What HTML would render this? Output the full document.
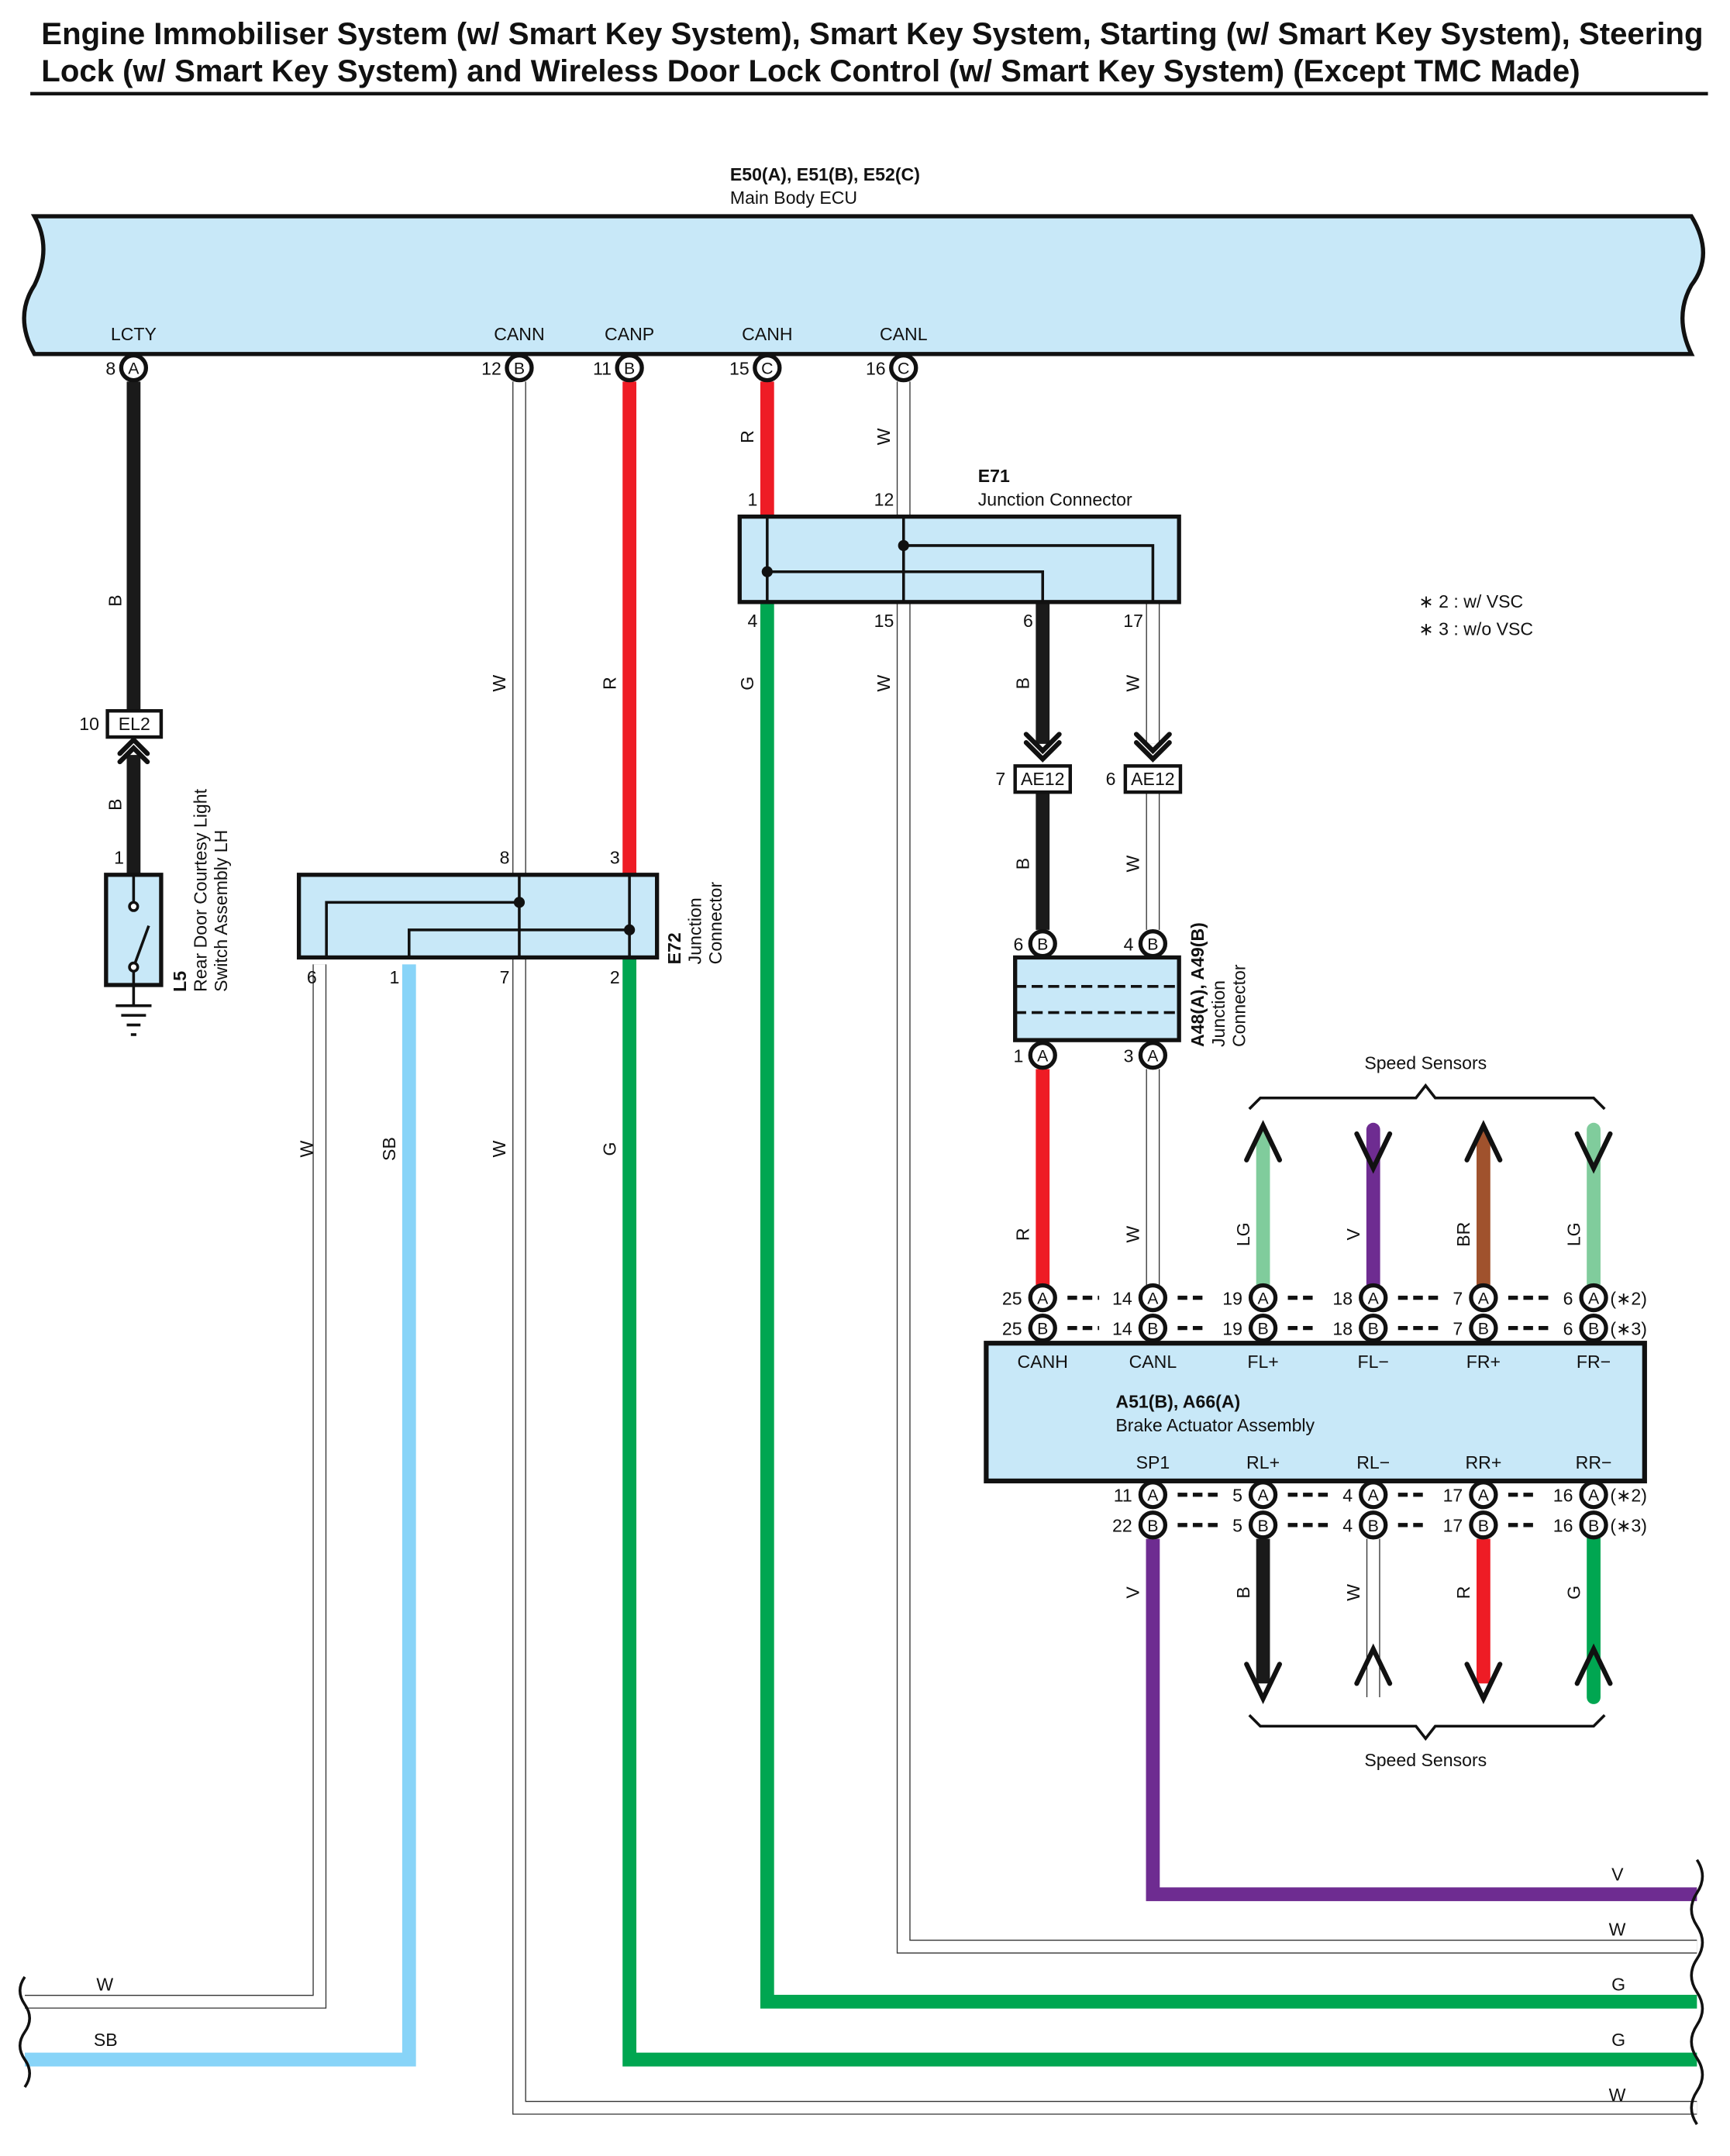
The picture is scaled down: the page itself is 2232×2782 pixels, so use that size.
<!DOCTYPE html>
<html><head><meta charset="utf-8"><style>
html,body{margin:0;padding:0;background:#fff}
svg{display:block}
text{font-family:"Liberation Sans",sans-serif;fill:#111}
.s{font-size:13px}
.b{font-weight:bold}
.c{font-size:12px;text-anchor:middle}
.m{text-anchor:middle}
.e{text-anchor:end}
</style></head><body>
<svg width="2232" height="2782" viewBox="0 0 1256 1565" preserveAspectRatio="none" xmlns="http://www.w3.org/2000/svg">
<defs>
<g id="pA"><circle r="9" fill="#fff" stroke="#111" stroke-width="3"/><text class="c" y="4.5">A</text></g>
<g id="pB"><circle r="9" fill="#fff" stroke="#111" stroke-width="3"/><text class="c" y="4.5">B</text></g>
<g id="pC"><circle r="9" fill="#fff" stroke="#111" stroke-width="3"/><text class="c" y="4.5">C</text></g>
</defs>
<text x="30" y="32" class="b" font-size="22.6">Engine Immobiliser System (w/ Smart Key System), Smart Key System, Starting (w/ Smart Key System), Steering</text>
<text x="30" y="59" class="b" font-size="22.6">Lock (w/ Smart Key System) and Wireless Door Lock Control (w/ Smart Key System) (Except TMC Made)</text>
<line x1="22" y1="68" x2="1240" y2="68" stroke="#111" stroke-width="2.5"/>

<text x="530" y="131" class="s b">E50(A), E51(B), E52(C)</text>
<text x="530" y="148" class="s">Main Body ECU</text>
<path d="M25,157 L1228,157 Q1245,185 1228,207 Q1215,230 1228,257 L25,257 Q10,230 25,207 Q38,180 25,157 Z" fill="#c8e8f8" stroke="#111" stroke-width="3"/>
<g class="s m">
<text x="97" y="247">LCTY</text><text x="377" y="247">CANN</text><text x="457" y="247">CANP</text><text x="557" y="247">CANH</text><text x="656" y="247">CANL</text>
</g>

<g fill="none" stroke-linejoin="miter">
<g stroke="#333" stroke-width="10">
<path d="M377,277 V1530 H1232"/>
<path d="M232,700 V1453 H18"/>
<path d="M656,277 V375 M656,437 V1413 H1232"/>
<path d="M837,437 V540 M837,575 V675 M837,776 V933"/>
<path d="M997,1117 V1232"/>
</g>
<g stroke="#fff" stroke-width="8.5">
<path d="M377,277 V1530 H1232"/>
<path d="M232,700 V1453 H18"/>
<path d="M656,277 V375 M656,437 V1413 H1232"/>
<path d="M837,437 V540 M837,575 V675 M837,776 V933"/>
<path d="M997,1117 V1232"/>
</g>
<path d="M97,277 V515 M97,548 V635" stroke="#1a1a1a" stroke-width="10"/>
<path d="M457,277 V635" stroke="#ee1c25" stroke-width="10"/>
<path d="M557,277 V375" stroke="#ee1c25" stroke-width="10"/>
<path d="M297,700 V1495 H18" stroke="#88d4f8" stroke-width="10"/>
<path d="M457,695 V1495 H1232" stroke="#00a651" stroke-width="10"/>
<path d="M557,437 V1453 H1232" stroke="#00a651" stroke-width="10"/>
<path d="M757,437 V540 M757,575 V675" stroke="#1a1a1a" stroke-width="10"/>
<path d="M757,776 V933" stroke="#ee1c25" stroke-width="10"/>
<path d="M917,825 V933" stroke="#80cc9c" stroke-width="10" stroke-linecap="round"/>
<path d="M997,820 V933" stroke="#6e2c91" stroke-width="10" stroke-linecap="round"/>
<path d="M1077,825 V933" stroke="#a0522d" stroke-width="10" stroke-linecap="round"/>
<path d="M1157,820 V933" stroke="#80cc9c" stroke-width="10" stroke-linecap="round"/>
<path d="M837,1117 V1375 H1232" stroke="#6e2c91" stroke-width="10"/>
<path d="M917,1117 V1222" stroke="#1a1a1a" stroke-width="10"/>
<path d="M1077,1117 V1222" stroke="#ee1c25" stroke-width="10"/>
<path d="M1157,1117 V1232" stroke="#00a651" stroke-width="10" stroke-linecap="round"/>
<g stroke="#111" stroke-width="3.5" stroke-linecap="round">
<path d="M905,842 L917,817 L929,842"/>
<path d="M985,823 L997,848 L1009,823"/>
<path d="M1065,842 L1077,817 L1089,842"/>
<path d="M1145,823 L1157,848 L1169,823"/>
<path d="M905,1208 L917,1233 L929,1208"/>
<path d="M985,1222 L997,1197 L1009,1222"/>
<path d="M1065,1208 L1077,1233 L1089,1208"/>
<path d="M1145,1222 L1157,1197 L1169,1222"/>
<path d="M87,553 L97,543 L107,553 M87,547 L97,537 L107,547"/>
<path d="M745,533 L757,545 L769,533 M745,539 L757,551 L769,539"/>
<path d="M825,533 L837,545 L849,533 M825,539 L837,551 L849,539"/>
</g>
<path d="M907,805 L915,797 L1028,797 L1035,788 L1042,797 L1157,797 L1165,805" stroke="#111" stroke-width="2"/>
<path d="M907,1245 L915,1253 L1028,1253 L1035,1262 L1042,1253 L1157,1253 L1165,1245" stroke="#111" stroke-width="2"/>
<path d="M1232,1350 q8,12 0,24 q-8,12 0,24 q8,12 0,24 q-8,12 0,24 q8,12 0,24 q-8,12 0,24 q8,12 0,24 q-8,12 0,24" stroke="#111" stroke-width="2"/>
<path d="M18,1435 q-7,10 0,20 q7,10 0,20 q-7,10 0,20 q7,10 0,20" stroke="#111" stroke-width="2"/>
</g>

<use href="#pA" x="97" y="267"/><use href="#pB" x="377" y="267"/><use href="#pB" x="457" y="267"/><use href="#pC" x="557" y="267"/><use href="#pC" x="656" y="267"/>
<g class="s e"><text x="84" y="272">8</text><text x="364" y="272">12</text><text x="444" y="272">11</text><text x="544" y="272">15</text><text x="643" y="272">16</text></g>

<rect x="78" y="516" width="39" height="19" fill="#fff" stroke="#111" stroke-width="2.5"/>
<text x="97.5" y="530" class="s m">EL2</text><text x="72" y="530" class="s e">10</text>
<text x="90" y="627" class="s e">1</text>
<rect x="77" y="635" width="40" height="80" fill="#c8e8f8" stroke="#111" stroke-width="3"/>
<g stroke="#111" stroke-width="2" fill="#fff"><line x1="97" y1="635" x2="97" y2="655"/><line x1="97" y1="702" x2="97" y2="730"/><line x1="97" y1="702" x2="108" y2="672"/><circle cx="97" cy="658" r="3"/><circle cx="97" cy="702" r="3"/>
<line x1="84" y1="730" x2="110" y2="730"/><line x1="88" y1="737" x2="106" y2="737"/><line x1="92" y1="744" x2="102" y2="744"/><line x1="95" y1="751" x2="99" y2="751"/></g>
<g transform="translate(135,720) rotate(-90)"><text class="s b">L5</text><text y="15" class="s">Rear Door Courtesy Light</text><text y="30" class="s">Switch Assembly LH</text></g>

<rect x="217" y="635" width="260" height="60" fill="#c8e8f8" stroke="#111" stroke-width="3"/>
<g stroke="#111" stroke-width="2" fill="none"><path d="M377,635 V695 M377,655 H237 V695 M457,635 V695 M457,675 H297 V695"/></g>
<circle cx="377" cy="655" r="4" fill="#111"/><circle cx="457" cy="675" r="4" fill="#111"/>
<g class="s e"><text x="370" y="627">8</text><text x="450" y="627">3</text><text x="230" y="714">6</text><text x="290" y="714">1</text><text x="370" y="714">7</text><text x="450" y="714">2</text></g>
<g transform="translate(494,700) rotate(-90)"><text class="s b">E72</text><text y="15" class="s">Junction</text><text y="30" class="s">Connector</text></g>

<text x="710" y="350" class="s b">E71</text><text x="710" y="367" class="s">Junction Connector</text>
<rect x="537" y="375" width="319" height="62" fill="#c8e8f8" stroke="#111" stroke-width="3"/>
<g stroke="#111" stroke-width="2" fill="none"><path d="M557,375 V437 M557,415 H757 V437 M656,375 V437 M656,396 H837 V437"/></g>
<circle cx="557" cy="415" r="4" fill="#111"/><circle cx="656" cy="396" r="4" fill="#111"/>
<g class="s e"><text x="550" y="367">1</text><text x="649" y="367">12</text><text x="550" y="455">4</text><text x="649" y="455">15</text><text x="750" y="455">6</text><text x="830" y="455">17</text></g>

<rect x="737" y="556" width="40" height="19" fill="#fff" stroke="#111" stroke-width="2.5"/><text x="757" y="570" class="s m">AE12</text>
<rect x="817" y="556" width="40" height="19" fill="#fff" stroke="#111" stroke-width="2.5"/><text x="837" y="570" class="s m">AE12</text>
<text x="730" y="570" class="s e">7</text><text x="810" y="570" class="s e">6</text>

<use href="#pB" x="757" y="685"/><use href="#pB" x="837" y="685"/>
<text x="743" y="690" class="s e">6</text><text x="823" y="690" class="s e">4</text>
<rect x="737" y="695" width="119" height="60" fill="#c8e8f8" stroke="#111" stroke-width="3"/>
<g stroke="#111" stroke-width="2" stroke-dasharray="8,4"><line x1="737" y1="716" x2="856" y2="716"/><line x1="737" y1="735" x2="856" y2="735"/></g>
<use href="#pA" x="757" y="766"/><use href="#pA" x="837" y="766"/>
<text x="743" y="771" class="s e">1</text><text x="823" y="771" class="s e">3</text>
<g transform="translate(874,760) rotate(-90)"><text class="s b">A48(A), A49(B)</text><text y="15" class="s">Junction</text><text y="30" class="s">Connector</text></g>

<text x="1030" y="441" class="s">∗ 2 : w/ VSC</text><text x="1030" y="461" class="s">∗ 3 : w/o VSC</text>
<text x="1035" y="776" class="s m">Speed Sensors</text><text x="1035" y="1282" class="s m">Speed Sensors</text>

<g stroke="#111" stroke-width="3" stroke-dasharray="7,4">
<line x1="775" y1="942" x2="798" y2="942"/><line x1="775" y1="964" x2="798" y2="964"/>
<line x1="855" y1="942" x2="876" y2="942"/><line x1="855" y1="964" x2="876" y2="964"/>
<line x1="935" y1="942" x2="956" y2="942"/><line x1="935" y1="964" x2="956" y2="964"/>
<line x1="1015" y1="942" x2="1047" y2="942"/><line x1="1015" y1="964" x2="1047" y2="964"/>
<line x1="1095" y1="942" x2="1127" y2="942"/><line x1="1095" y1="964" x2="1127" y2="964"/>
<line x1="855" y1="1085" x2="888" y2="1085"/><line x1="855" y1="1107" x2="888" y2="1107"/>
<line x1="935" y1="1085" x2="968" y2="1085"/><line x1="935" y1="1107" x2="968" y2="1107"/>
<line x1="1015" y1="1085" x2="1037" y2="1085"/><line x1="1015" y1="1107" x2="1037" y2="1107"/>
<line x1="1095" y1="1085" x2="1117" y2="1085"/><line x1="1095" y1="1107" x2="1117" y2="1107"/>
</g>
<use href="#pA" x="757" y="942"/><use href="#pB" x="757" y="964"/>
<use href="#pA" x="837" y="942"/><use href="#pB" x="837" y="964"/>
<use href="#pA" x="917" y="942"/><use href="#pB" x="917" y="964"/>
<use href="#pA" x="997" y="942"/><use href="#pB" x="997" y="964"/>
<use href="#pA" x="1077" y="942"/><use href="#pB" x="1077" y="964"/>
<use href="#pA" x="1157" y="942"/><use href="#pB" x="1157" y="964"/>
<g class="s e">
<text x="742" y="947">25</text><text x="742" y="969">25</text>
<text x="822" y="947">14</text><text x="822" y="969">14</text>
<text x="902" y="947">19</text><text x="902" y="969">19</text>
<text x="982" y="947">18</text><text x="982" y="969">18</text>
<text x="1062" y="947">7</text><text x="1062" y="969">7</text>
<text x="1142" y="947">6</text><text x="1142" y="969">6</text>
<text x="822" y="1090">11</text><text x="822" y="1112">22</text>
<text x="902" y="1090">5</text><text x="902" y="1112">5</text>
<text x="982" y="1090">4</text><text x="982" y="1112">4</text>
<text x="1062" y="1090">17</text><text x="1062" y="1112">17</text>
<text x="1142" y="1090">16</text><text x="1142" y="1112">16</text>
</g>
<g class="s"><text x="1169" y="947">(∗2)</text><text x="1169" y="969">(∗3)</text><text x="1169" y="1090">(∗2)</text><text x="1169" y="1112">(∗3)</text></g>

<rect x="716" y="975" width="478" height="100" fill="#c8e8f8" stroke="#111" stroke-width="3.5"/>
<g class="s m"><text x="757" y="993">CANH</text><text x="837" y="993">CANL</text><text x="917" y="993">FL+</text><text x="997" y="993">FL−</text><text x="1077" y="993">FR+</text><text x="1157" y="993">FR−</text>
<text x="837" y="1066">SP1</text><text x="917" y="1066">RL+</text><text x="997" y="1066">RL−</text><text x="1077" y="1066">RR+</text><text x="1157" y="1066">RR−</text></g>
<text x="810" y="1022" class="s b">A51(B), A66(A)</text><text x="810" y="1039" class="s">Brake Actuator Assembly</text>

<use href="#pA" x="837" y="1085"/><use href="#pB" x="837" y="1107"/>
<use href="#pA" x="917" y="1085"/><use href="#pB" x="917" y="1107"/>
<use href="#pA" x="997" y="1085"/><use href="#pB" x="997" y="1107"/>
<use href="#pA" x="1077" y="1085"/><use href="#pB" x="1077" y="1107"/>
<use href="#pA" x="1157" y="1085"/><use href="#pB" x="1157" y="1107"/>

<g class="s m">
<text transform="translate(88,436) rotate(-90)">B</text>
<text transform="translate(88,584) rotate(-90)">B</text>
<text transform="translate(367,496) rotate(-90)">W</text>
<text transform="translate(447,496) rotate(-90)">R</text>
<text transform="translate(547,317) rotate(-90)">R</text>
<text transform="translate(646,317) rotate(-90)">W</text>
<text transform="translate(547,496) rotate(-90)">G</text>
<text transform="translate(646,496) rotate(-90)">W</text>
<text transform="translate(747,496) rotate(-90)">B</text>
<text transform="translate(827,496) rotate(-90)">W</text>
<text transform="translate(747,627) rotate(-90)">B</text>
<text transform="translate(827,627) rotate(-90)">W</text>
<text transform="translate(227,834) rotate(-90)">W</text>
<text transform="translate(287,834) rotate(-90)">SB</text>
<text transform="translate(367,834) rotate(-90)">W</text>
<text transform="translate(447,834) rotate(-90)">G</text>
<text transform="translate(747,896) rotate(-90)">R</text>
<text transform="translate(827,896) rotate(-90)">W</text>
<text transform="translate(907,896) rotate(-90)">LG</text>
<text transform="translate(987,896) rotate(-90)">V</text>
<text transform="translate(1067,896) rotate(-90)">BR</text>
<text transform="translate(1147,896) rotate(-90)">LG</text>
<text transform="translate(827,1156) rotate(-90)">V</text>
<text transform="translate(907,1156) rotate(-90)">B</text>
<text transform="translate(987,1156) rotate(-90)">W</text>
<text transform="translate(1067,1156) rotate(-90)">R</text>
<text transform="translate(1147,1156) rotate(-90)">G</text>
</g>
<g class="s">
<text x="1170" y="1365">V</text><text x="1168" y="1405">W</text><text x="1170" y="1445">G</text><text x="1170" y="1485">G</text><text x="1168" y="1525">W</text>
<text x="70" y="1445">W</text><text x="68" y="1485">SB</text>
</g>
</svg>
</body></html>
